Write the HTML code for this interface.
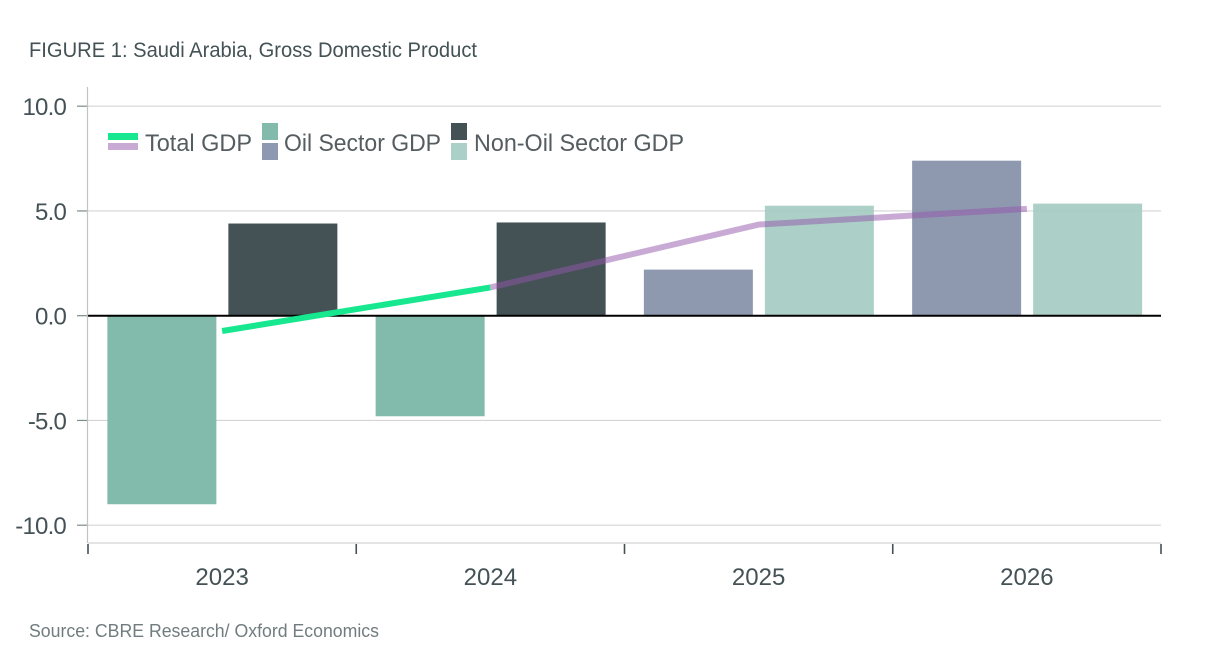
<!DOCTYPE html>
<html lang="en">
<head>
<meta charset="utf-8">
<title>Saudi Arabia, Gross Domestic Product</title>
<style>
html,body{margin:0;padding:0;background:#fff;}
body{width:1223px;height:662px;overflow:hidden;}
svg{display:block;font-family:"Liberation Sans",sans-serif;}
</style>
</head>
<body>
<svg id="chart" xmlns="http://www.w3.org/2000/svg" width="1223" height="662" viewBox="0 0 1223 662">
  <text x="29" y="57" font-size="21" fill="#445256" textLength="448" lengthAdjust="spacingAndGlyphs">FIGURE 1: Saudi Arabia, Gross Domestic Product</text>
  <g id="grid"></g>
  <g id="bars"></g>
  <g id="axes"></g>
  <g id="lines"></g>
  <g>
    <rect x="108" y="133" width="30" height="7" fill="#17e88f"/>
    <rect x="108" y="143" width="30" height="7" fill="#c8aad5"/>
    <text x="145" y="151" font-size="24" fill="#555d60" textLength="107" lengthAdjust="spacingAndGlyphs">Total GDP</text>
    <rect x="262" y="123" width="16" height="17" fill="#82bbab"/>
    <rect x="262" y="143" width="16" height="17" fill="#8d99b0"/>
    <text x="284" y="151" font-size="24" fill="#555d60" textLength="157" lengthAdjust="spacingAndGlyphs">Oil Sector GDP</text>
    <rect x="451" y="123" width="16" height="17" fill="#445256"/>
    <rect x="451" y="143" width="16" height="17" fill="#abd0c7"/>
    <text x="474" y="151" font-size="24" fill="#555d60" textLength="210" lengthAdjust="spacingAndGlyphs">Non-Oil Sector GDP</text>
  </g>
  <text x="29" y="637" font-size="18" fill="#717c7f" textLength="350" lengthAdjust="spacingAndGlyphs">Source: CBRE Research/ Oxford Economics</text>
</svg>
<script>
const years = ['2023', '2024', '2025', '2026'];
const oilSector = [-9.0, -4.8, 2.2, 7.4];
const nonOilSector = [4.4, 4.45, 5.25, 5.35];
const totalGdp = [-0.73, 1.35, 4.35, 5.1];
const isForecast = [false, false, true, true];
const yTicks = [10, 5, 0, -5, -10];

const NS = 'http://www.w3.org/2000/svg';
const plotLeft = 88, plotRight = 1161, axisBottom = 543;
const band = (plotRight - plotLeft) / years.length;
const barWidth = 109, barGap = 12;
function yScale(v) { return 315.7 - v * 20.95; }
function xCenter(i) { return plotLeft + band * (i + 0.5); }
function make(tag, attrs, parent) {
  const el = document.createElementNS(NS, tag);
  for (const k in attrs) el.setAttribute(k, attrs[k]);
  parent.appendChild(el);
  return el;
}

const barsG = document.getElementById('bars');
const gridG = document.getElementById('grid');
const axesG = document.getElementById('axes');
const linesG = document.getElementById('lines');

function drawBar(i, v, isOil) {
  const top = yScale(Math.max(v, 0));
  const h = Math.abs(yScale(v) - yScale(0));
  const x = (isOil ? xCenter(i) - barGap / 2 - barWidth : xCenter(i) + barGap / 2) + 0.25;
  const fill = isOil ? (isForecast[i] ? '#7e8ba5' : '#82bbab') : (isForecast[i] ? '#a0cabf' : '#445256');
  const r = make('rect', { x: x, y: top, width: barWidth, height: h, fill: fill, 'fill-opacity': isForecast[i] ? 0.88 : 1 }, barsG);
  
  
}
years.forEach(function (y, i) {
  drawBar(i, oilSector[i], true);
  drawBar(i, nonOilSector[i], false);
});

yTicks.forEach(function (t) {
  const y = yScale(t);
  const line = make('line', { x1: plotLeft, x2: plotRight, y1: y, y2: y, stroke: t === 0 ? '#000' : 'rgba(0,0,0,0.17)', 'stroke-width': t === 0 ? 2 : 1.2 }, t === 0 ? axesG : gridG);
  
  
  const tick = make('line', { x1: 77, x2: plotLeft, y1: y, y2: y, stroke: '#7f8a8c', 'stroke-width': 1.2 }, axesG);
  
  
  const label = make('text', { x: 66, y: y + 9, 'text-anchor': 'end', 'font-size': 24, fill: '#445256', 'letter-spacing': '-0.8' }, axesG);
  label.textContent = t.toFixed(1);
  
  
});

const yAxis = make('line', { x1: 87.5, x2: 87.5, y1: 87, y2: axisBottom, stroke: '#c2c4c4', 'stroke-width': 1.2 }, axesG);


const xAxis = make('line', { x1: plotLeft, x2: plotRight, y1: axisBottom, y2: axisBottom, stroke: '#d2d4d4', 'stroke-width': 1.2 }, axesG);



for (let i = 0; i <= years.length; i++) {
  const x = plotLeft + band * i;
  const tick = make('line', { x1: x, x2: x, y1: 544, y2: 554, stroke: '#445256', 'stroke-width': 1.6 }, axesG);
  
  
}
years.forEach(function (y, i) {
  const label = make('text', { x: xCenter(i), y: 585, 'text-anchor': 'middle', 'font-size': 24, fill: '#445256' }, axesG);
  label.textContent = y;
  
  
});

function polyPoints(idx) {
  return idx.map(function (i) { return xCenter(i) + ',' + yScale(totalGdp[i]); }).join(' ');
}
const actualIdx = [], forecastIdx = [];
years.forEach(function (y, i) {
  if (!isForecast[i]) actualIdx.push(i);
  if (isForecast[i] || (i + 1 < years.length && isForecast[i + 1])) forecastIdx.push(i);
});
const fLine = make('polyline', { points: polyPoints(forecastIdx), fill: 'none', stroke: '#9355ab', 'stroke-opacity': 0.5, 'stroke-width': 6, 'stroke-linejoin': 'miter' }, linesG);


const aLine = make('polyline', { points: polyPoints(actualIdx), fill: 'none', stroke: '#17e88f', 'stroke-width': 6 }, linesG);


</script>
</body>
</html>
